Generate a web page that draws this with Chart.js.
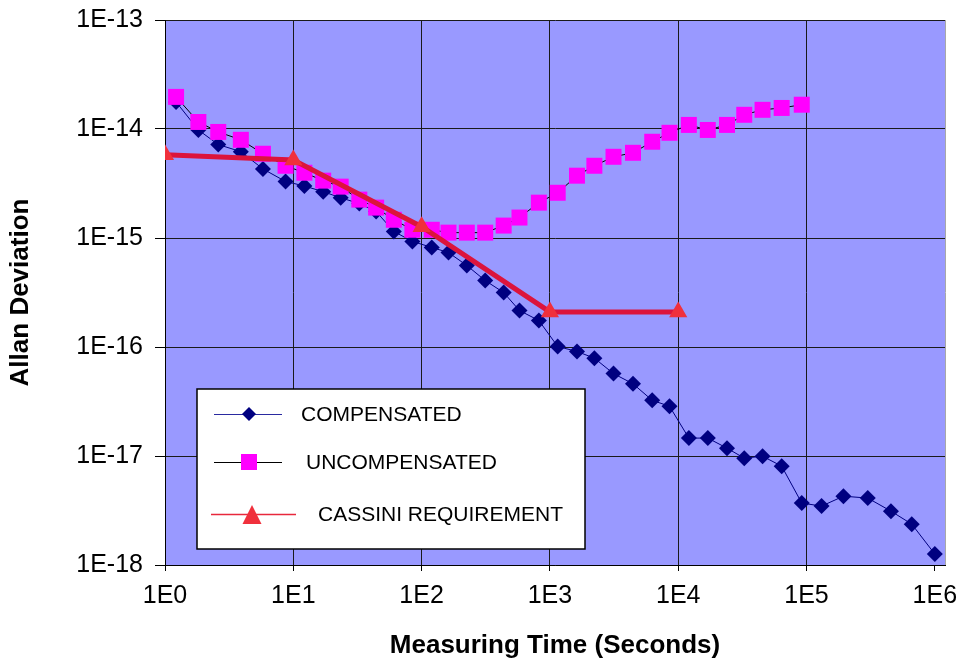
<!DOCTYPE html>
<html>
<head>
<meta charset="utf-8">
<title>Allan Deviation</title>
<script src="https://cdn.jsdelivr.net/npm/chart.js@4/dist/chart.umd.min.js"></script>
<style>
  body { margin: 0; background: #fff; }
  canvas { display: block; }
</style>
</head>
<body>
<canvas id="allanChart" width="959" height="663"></canvas>
<script>
// measuring time (s) shared by both measured series
const tau = [1.22, 1.82, 2.6, 3.9, 5.8, 8.7, 12.2, 17.1, 23.4, 32.7, 44.2, 60.7, 84.7,
  120, 162, 225, 313, 436, 579, 820, 1150, 1625, 2220, 3130, 4440, 6270, 8550,
  12100, 17000, 24000, 32700, 45400, 64000, 91800, 131000, 194000, 300000, 455000, 661000, 1000000];

const compensated = [1.77e-14, 9.8e-15, 7.2e-15, 6.2e-15, 4.3e-15, 3.3e-15, 3.0e-15, 2.66e-15,
  2.34e-15, 2.07e-15, 1.75e-15, 1.15e-15, 9.3e-16, 8.2e-16, 7.35e-16, 5.6e-16, 4.07e-16,
  3.16e-16, 2.16e-16, 1.75e-16, 1.01e-16, 9.1e-17, 7.9e-17, 5.7e-17, 4.6e-17, 3.24e-17,
  2.86e-17, 1.46e-17, 1.46e-17, 1.18e-17, 9.55e-18, 9.96e-18, 8.07e-18, 3.7e-18, 3.47e-18,
  4.28e-18, 4.11e-18, 3.12e-18, 2.37e-18, 1.26e-18];

const uncompensated = [1.97e-14, 1.16e-14, 9.4e-15, 7.96e-15, 5.93e-15, 4.6e-15, 3.97e-15,
  3.36e-15, 2.96e-15, 2.25e-15, 1.9e-15, 1.47e-15, 1.19e-15, 1.19e-15, 1.12e-15, 1.12e-15,
  1.12e-15, 1.3e-15, 1.54e-15, 2.11e-15, 2.6e-15, 3.73e-15, 4.6e-15, 5.56e-15, 6.05e-15,
  7.64e-15, 9.23e-15, 1.09e-14, 9.8e-15, 1.09e-14, 1.35e-14, 1.5e-14, 1.56e-14, 1.67e-14];

const cassiniTau = [1, 10, 100, 1000, 10000];
const cassini = [5.8e-15, 5.2e-15, 1.27e-15, 2.1e-16, 2.1e-16];

const xTicks = [1, 10, 100, 1000, 10000, 100000, 1000000];
const yTicks = [1e-18, 1e-17, 1e-16, 1e-15, 1e-14, 1e-13];

const FONT = "'Liberation Sans', Arial, sans-serif";

function toPoints(xs, ys) {
  return ys.map((y, i) => ({ x: xs[i], y: y }));
}

function expLabel(v) {
  return "1E" + Math.round(Math.log10(v));
}

const plotBackground = {
  id: "plotBackground",
  beforeDraw(chart) {
    const { ctx, chartArea: a } = chart;
    ctx.save();
    ctx.fillStyle = "#9999ff";
    ctx.fillRect(a.left, a.top, a.right - a.left, a.bottom - a.top);
    ctx.strokeStyle = "#a8a8a8";
    ctx.lineWidth = 1;
    ctx.beginPath();
    ctx.moveTo(a.right + 0.5, a.top);
    ctx.lineTo(a.right + 0.5, a.bottom);
    ctx.stroke();
    ctx.restore();
  }
};

// legend box drawn inside the plot like the original
const legendEntries = [
  { label: "COMPENSATED", y: 414, x1: 214, x2: 282, mx: 249, tx: 301, line: "#2a2aa0", shape: "diamond", color: "#000080" },
  { label: "UNCOMPENSATED", y: 462, x1: 214, x2: 282, mx: 249, tx: 306, line: "#000000", shape: "square", color: "#ff00ff" },
  { label: "CASSINI REQUIREMENT", y: 514, x1: 211, x2: 296, mx: 252, tx: 318, line: "#e8283c", shape: "triangle", color: "#f0303c" }
];

const legendBox = {
  id: "legendBox",
  afterDraw(chart) {
    const ctx = chart.ctx;
    ctx.save();
    ctx.fillStyle = "#ffffff";
    ctx.fillRect(197, 389, 388, 160);
    ctx.strokeStyle = "#000";
    ctx.lineWidth = 1.5;
    ctx.strokeRect(197, 389, 388, 160);

    legendEntries.forEach(e => {
      ctx.strokeStyle = e.line;
      ctx.lineWidth = e.shape === "triangle" ? 1.5 : 1;
      ctx.beginPath();
      ctx.moveTo(e.x1, e.y + 0.5);
      ctx.lineTo(e.x2, e.y + 0.5);
      ctx.stroke();

      ctx.fillStyle = e.color;
      ctx.beginPath();
      if (e.shape === "diamond") {
        ctx.moveTo(e.mx, e.y - 7);
        ctx.lineTo(e.mx + 7, e.y);
        ctx.lineTo(e.mx, e.y + 7);
        ctx.lineTo(e.mx - 7, e.y);
      } else if (e.shape === "square") {
        ctx.rect(e.mx - 8, e.y - 8, 16, 16);
      } else {
        ctx.moveTo(e.mx, e.y - 9);
        ctx.lineTo(e.mx + 9.5, e.y + 10);
        ctx.lineTo(e.mx - 9.5, e.y + 10);
      }
      ctx.closePath();
      ctx.fill();

      ctx.fillStyle = "#000";
      ctx.font = "21px " + FONT;
      ctx.textBaseline = "middle";
      ctx.textAlign = "left";
      ctx.fillText(e.label, e.tx, e.y + 1);
    });
    ctx.restore();
  }
};

new Chart(document.getElementById("allanChart"), {
  type: "scatter",
  data: {
    datasets: [
      {
        label: "COMPENSATED",
        data: toPoints(tau, compensated),
        showLine: true,
        order: 2,
        borderColor: "#000080",
        borderWidth: 1,
        pointStyle: "rectRot",
        pointRadius: 8,
        pointBackgroundColor: "#000080",
        pointBorderWidth: 0
      },
      {
        label: "UNCOMPENSATED",
        data: toPoints(tau, uncompensated),
        showLine: true,
        order: 1,
        borderColor: "#000000",
        borderWidth: 1,
        pointStyle: "rect",
        pointRadius: 11.3,
        pointBackgroundColor: "#ff00ff",
        pointBorderWidth: 0
      },
      {
        label: "CASSINI REQUIREMENT",
        data: toPoints(cassiniTau, cassini),
        showLine: true,
        order: 0,
        borderColor: "#dc143c",
        borderWidth: 5,
        pointStyle: "triangle",
        pointRadius: 10.5,
        pointBackgroundColor: "#f0303c",
        pointBorderWidth: 0
      }
    ]
  },
  options: {
    responsive: false,
    animation: false,
    devicePixelRatio: 1,
    layout: { padding: { top: 20, right: 14, bottom: 0, left: 0 } },
    plugins: {
      legend: { display: false },
      tooltip: { enabled: false }
    },
    scales: {
      x: {
        type: "logarithmic",
        min: 1,
        max: 1.2e6,
        afterBuildTicks: s => { s.ticks = xTicks.map(v => ({ value: v })); },
        afterFit: s => {
          s.height = 98;
          s.paddingLeft = 0;
          s.paddingRight = 0;
        },
        ticks: {
          callback: v => expLabel(v),
          font: { family: FONT, size: 25 },
          color: "#000",
          padding: 10,
          maxRotation: 0,
          autoSkip: false
        },
        grid: {
          color: c => (c.tick && c.tick.value === 1e6 ? "rgba(0,0,0,0)" : "#1a1a1a"),
          tickColor: "#000",
          tickLength: 6,
          lineWidth: 1
        },
        border: { color: "#000" },
        title: {
          display: true,
          text: "Measuring Time (Seconds)",
          font: { family: FONT, size: 26, weight: "bold" },
          color: "#000",
          padding: { top: 0, bottom: 2 }
        }
      },
      y: {
        type: "logarithmic",
        min: 1e-18,
        max: 1e-13,
        afterBuildTicks: s => { s.ticks = yTicks.map(v => ({ value: v })); },
        afterFit: s => {
          s.width = 165;
          s.paddingTop = 0;
          s.paddingBottom = 0;
        },
        ticks: {
          callback: v => expLabel(v),
          font: { family: FONT, size: 25 },
          color: "#000",
          padding: 12
        },
        grid: {
          color: "#1a1a1a",
          tickColor: "#000",
          tickLength: 10,
          lineWidth: 1
        },
        border: { color: "#000" },
        title: {
          display: true,
          text: "Allan Deviation",
          font: { family: FONT, size: 26, weight: "bold" },
          color: "#000",
          padding: { top: 5, bottom: 0 }
        }
      }
    }
  },
  plugins: [plotBackground, legendBox]
});
</script>
</body>
</html>
